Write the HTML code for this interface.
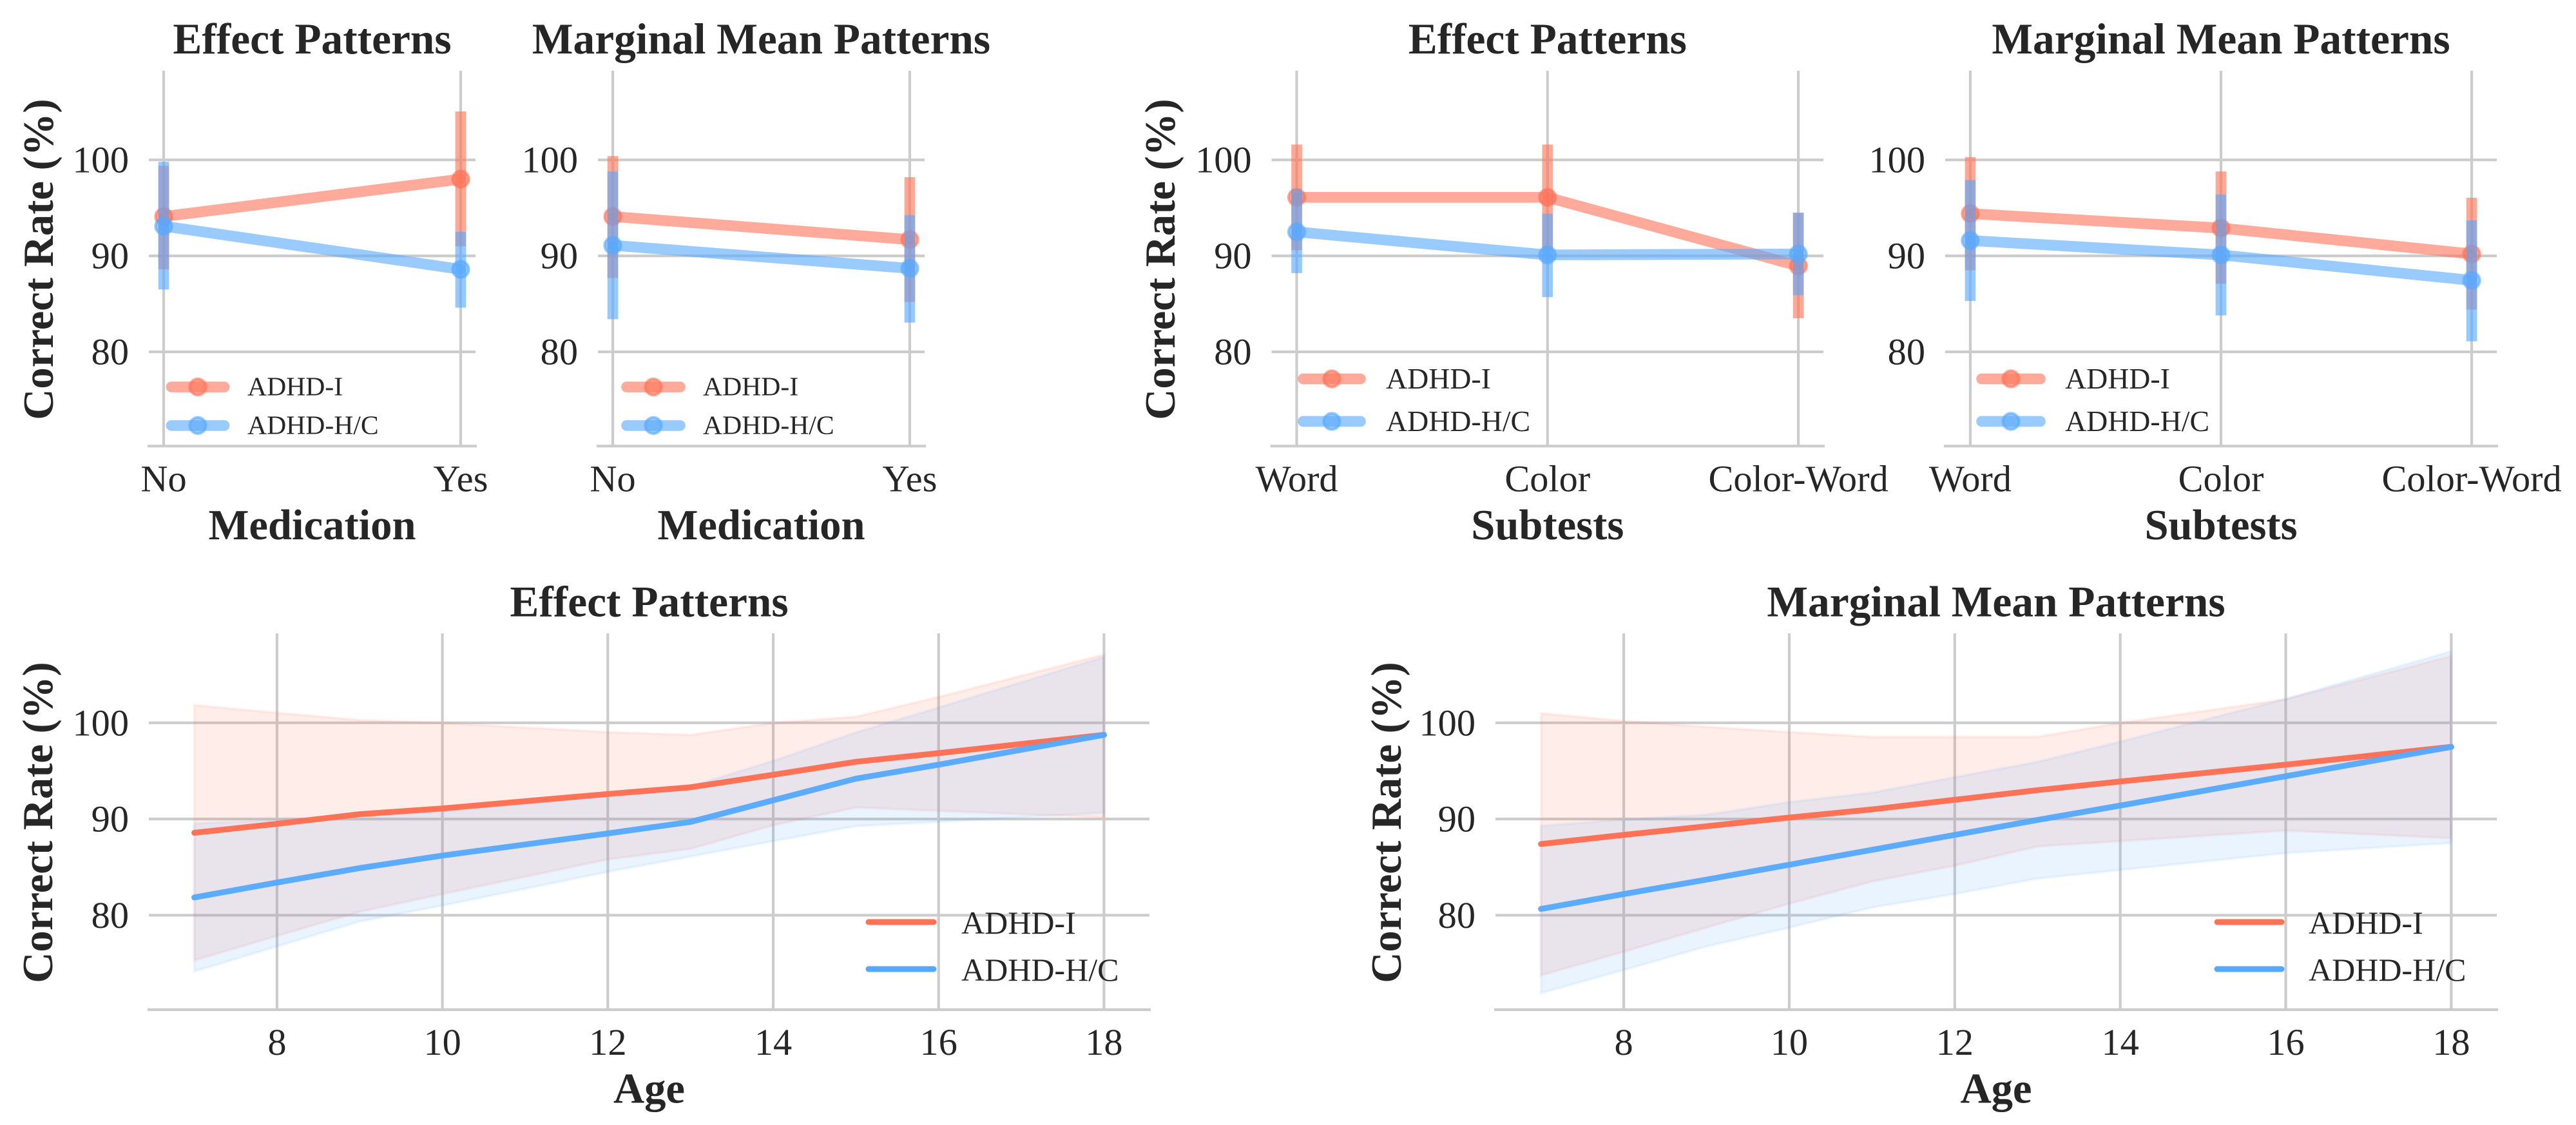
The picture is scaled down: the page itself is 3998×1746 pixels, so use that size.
<!DOCTYPE html>
<html lang="en">
<head>
<meta charset="utf-8">
<title>Correct rate patterns by medication, subtests and age</title>
<style>
html,body{margin:0;padding:0;background:#fff;width:3998px;height:1746px;overflow:hidden}
svg{display:block;font-family:"Liberation Serif","Times New Roman",serif}
text{fill:#262626}
</style>
</head>
<body>
<svg id="figure" xmlns="http://www.w3.org/2000/svg" width="3998" height="1746" viewBox="0 0 3998 1746"></svg>
<script>
// ---------- shared tick labels ----------
const yTicks = [80, 90, 100];
const ageTicks = [8, 10, 12, 14, 16, 18];
const medicationCategories = ['No', 'Yes'];
const subtestCategories = ['Word', 'Color', 'Color-Word'];
const seriesNames = ['ADHD-I', 'ADHD-H/C'];

// ---------- Medication / Effect ----------
const medEffectIMean = [94.1, 98.0];
const medEffectILow = [88.6, 91.0];
const medEffectIHigh = [99.4, 105.05];
const medEffectHMean = [93.1, 88.6];
const medEffectHLow = [86.5, 84.6];
const medEffectHHigh = [99.8, 92.5];

// ---------- Medication / Marginal mean ----------
const medMarginalIMean = [94.1, 91.7];
const medMarginalILow = [87.7, 85.2];
const medMarginalIHigh = [100.4, 98.2];
const medMarginalHMean = [91.1, 88.7];
const medMarginalHLow = [83.4, 83.05];
const medMarginalHHigh = [98.8, 94.25];

// ---------- Subtests / Effect ----------
const subEffectIMean = [96.1, 96.1, 88.95];
const subEffectILow = [90.6, 90.6, 83.5];
const subEffectIHigh = [101.6, 101.6, 94.5];
const subEffectHMean = [92.5, 90.1, 90.2];
const subEffectHLow = [88.2, 85.7, 85.9];
const subEffectHHigh = [96.95, 94.4, 94.5];

// ---------- Subtests / Marginal mean ----------
const subMarginalIMean = [94.4, 92.9, 90.2];
const subMarginalILow = [88.5, 87.1, 84.4];
const subMarginalIHigh = [100.3, 98.8, 96.05];
const subMarginalHMean = [91.6, 90.1, 87.45];
const subMarginalHLow = [85.3, 83.8, 81.1];
const subMarginalHHigh = [97.9, 96.4, 93.7];

// ---------- Age / Effect ----------
const ageEffectYears = [7, 8, 9, 10, 12, 13, 14, 15, 16, 18];
const ageEffectIMean = [88.57, 89.5, 90.5, 91.1, 92.6, 93.3, 94.6, 95.95, 96.85, 98.75];
const ageEffectILow = [75.3, 77.85, 80.35, 82.2, 85.8, 86.9, 89.35, 91.2, 90.85, 90.15];
const ageEffectIHigh = [101.85, 101.05, 100.3, 100, 99.05, 98.75, 100, 100.65, 102.7, 107.1];
const ageEffectHMean = [81.85, 83.4, 84.9, 86.2, 88.5, 89.7, 91.95, 94.2, 95.65, 98.75];
const ageEffectHLow = [74.15, 76.75, 79.35, 81, 84.5, 86.1, 87.7, 89.25, 89.7, 90.65];
const ageEffectHHigh = [89.55, 89.9, 90.3, 90.8, 92.4, 93.4, 96.05, 99, 101.6, 106.85];

// ---------- Age / Marginal mean ----------
const ageMarginalYears = [7, 8, 9, 10, 11, 12, 13, 14, 16, 18];
const ageMarginalIMean = [87.4, 88.35, 89.25, 90.15, 91, 92, 93, 93.9, 95.65, 97.5];
const ageMarginalILow = [73.75, 76.2, 78.7, 81.2, 83.5, 85.15, 87.15, 87.7, 88.8, 88];
const ageMarginalIHigh = [101, 100.2, 99.6, 99.05, 98.55, 98.55, 98.55, 100, 102.45, 106.95];
const ageMarginalHMean = [80.65, 82.2, 83.7, 85.25, 86.8, 88.35, 89.9, 91.4, 94.45, 97.5];
const ageMarginalHLow = [71.9, 74.3, 76.75, 78.7, 80.8, 82.2, 83.8, 84.7, 86.45, 87.5];
const ageMarginalHHigh = [89.3, 89.95, 90.45, 91.75, 92.75, 94.35, 95.95, 98.05, 102.5, 107.45];

// ---------- styling ----------
const RED = '#ff7256';
const BLUE = '#56a8ff';
const GRID = '#cccccc';
const YLIM = [70.18, 109.3];
const svgNS = 'http://www.w3.org/2000/svg';
const root = document.getElementById('figure');

function make(tag, attrs, parent, content) {
  const node = document.createElementNS(svgNS, tag);
  for (const k in attrs) node.setAttribute(k, attrs[k]);
  if (content !== undefined) node.textContent = content;
  parent.appendChild(node);
  return node;
}

function drawFrame(cfg, xScale, yScale, xValues, xLabels) {
  const g = make('g', {}, root);
  
  

  const title = make('text', {x: (cfg.left + cfg.right) / 2, y: cfg.top - 26.5, 'font-size': 67.4, 'font-weight': 'bold', 'text-anchor': 'middle'}, g, cfg.title);
  
  

  yTicks.forEach(function (t) {
    const line = make('line', {x1: cfg.left, x2: cfg.right, y1: yScale(t), y2: yScale(t), stroke: GRID, 'stroke-width': 4.17}, g);
    
    
    const label = make('text', {x: cfg.left - 31, y: yScale(t) + 19.5, 'font-size': 58.33, 'text-anchor': 'end'}, g, String(t));
    
    
  });

  xValues.forEach(function (v, i) {
    const line = make('line', {x1: xScale(v), x2: xScale(v), y1: cfg.top, y2: cfg.bottom, stroke: GRID, 'stroke-width': 4.17}, g);
    
    
    const label = make('text', {x: xScale(v), y: cfg.bottom + 70, 'font-size': 58.33, 'text-anchor': 'middle'}, g, String(xLabels[i]));
    
    
  });

  const spine = make('line', {x1: cfg.left - 2, x2: cfg.right + 2, y1: cfg.bottom, y2: cfg.bottom, stroke: GRID, 'stroke-width': 4.17}, g);
  
  

  const xTitle = make('text', {x: (cfg.left + cfg.right) / 2, y: cfg.bottom + 144.5, 'font-size': 66.67, 'font-weight': 'bold', 'text-anchor': 'middle'}, g, cfg.xTitle);
  
  

  if (cfg.yTitleX) {
    const cy = (cfg.top + cfg.bottom) / 2 + 1.5;
    const yTitle = make('text', {transform: 'translate(' + cfg.yTitleX + ' ' + cy + ') rotate(-90)', 'font-size': 66.67, 'font-weight': 'bold', 'text-anchor': 'middle'}, g, 'Correct Rate (%)');
    
    
  }
  return g;
}

function pointPath(xs, ys, xScale, yScale) {
  return xs.map(function (x, i) { return (i ? 'L' : 'M') + xScale(x).toFixed(2) + ' ' + yScale(ys[i]).toFixed(2); }).join(' ');
}

function drawCategoricalSeries(g, name, color, mean, low, high, xScale, yScale) {
  const xs = mean.map(function (_, i) { return i; });
  const s = make('g', {}, g);
  
  
  xs.forEach(function (x) {
    const bar = make('line', {x1: xScale(x), x2: xScale(x), y1: yScale(low[x]), y2: yScale(high[x]), stroke: color, 'stroke-width': 16.67, 'stroke-opacity': 0.62}, s);
    
    
  });
  const line = make('path', {d: pointPath(xs, mean, xScale, yScale), fill: 'none', stroke: color, 'stroke-width': 16.67, 'stroke-opacity': 0.6, 'stroke-linecap': 'round', 'stroke-linejoin': 'round'}, s);
  
  
  xs.forEach(function (x) {
    const dot = make('circle', {cx: xScale(x), cy: yScale(mean[x]), r: 12.6, fill: color, 'fill-opacity': 0.6, stroke: color, 'stroke-opacity': 0.6, 'stroke-width': 4.2}, s);
    
    
  });
}

function drawMarkerLegend(g, lg) {
  seriesNames.forEach(function (name, i) {
    const color = i ? BLUE : RED;
    const y = lg.y[i];
    const entry = make('g', {}, g);
    
    
    const swatch = make('line', {x1: lg.x1, x2: lg.x2, y1: y, y2: y, stroke: color, 'stroke-width': 16.67, 'stroke-opacity': 0.6, 'stroke-linecap': 'round'}, entry);
    
    
    const dot = make('circle', {cx: (lg.x1 + lg.x2) / 2, cy: y, r: 12.6, fill: color, 'fill-opacity': 0.6, stroke: color, 'stroke-opacity': 0.6, 'stroke-width': 4.2}, entry);
    
    
    const label = make('text', {x: lg.tx, y: y + lg.dy, 'font-size': lg.size}, entry, name);
    
    
  });
}

function categoricalChart(cfg, cats, iMean, iLow, iHigh, hMean, hLow, hHigh) {
  const n = cats.length - 1;
  const m = n * 0.05;
  const xScale = function (v) { return cfg.left + (v + m) / (n + 2 * m) * (cfg.right - cfg.left); };
  const yScale = function (v) { return cfg.bottom - (v - YLIM[0]) / (YLIM[1] - YLIM[0]) * (cfg.bottom - cfg.top); };
  const g = drawFrame(cfg, xScale, yScale, cats.map(function (_, i) { return i; }), cats);
  drawCategoricalSeries(g, 'adhd-i', RED, iMean, iLow, iHigh, xScale, yScale);
  drawCategoricalSeries(g, 'adhd-h-c', BLUE, hMean, hLow, hHigh, xScale, yScale);
  drawMarkerLegend(g, cfg.legend);
}

function drawBandSeries(g, name, color, years, mean, low, high, xScale, yScale) {
  const upper = pointPath(years, high, xScale, yScale);
  const revYears = years.slice().reverse();
  const revLow = low.slice().reverse();
  const lower = pointPath(revYears, revLow, xScale, yScale).replace(/^M/, 'L');
  const band = make('path', {d: upper + ' ' + lower + ' Z', fill: color, 'fill-opacity': 0.13, stroke: color, 'stroke-opacity': 0.09, 'stroke-width': 4.17}, g);
  
  
}

function ageChart(cfg, years, iMean, iLow, iHigh, hMean, hLow, hHigh) {
  const xScale = function (v) { return cfg.left + (v - 6.45) / 12.1 * (cfg.right - cfg.left); };
  const yScale = function (v) { return cfg.bottom - (v - YLIM[0]) / (YLIM[1] - YLIM[0]) * (cfg.bottom - cfg.top); };
  const g = drawFrame(cfg, xScale, yScale, ageTicks, ageTicks);
  drawBandSeries(g, 'adhd-i', RED, years, iMean, iLow, iHigh, xScale, yScale);
  drawBandSeries(g, 'adhd-h-c', BLUE, years, hMean, hLow, hHigh, xScale, yScale);
  const redLine = make('path', {d: pointPath(years, iMean, xScale, yScale), fill: 'none', stroke: RED, 'stroke-width': 9, 'stroke-linecap': 'round', 'stroke-linejoin': 'round'}, g);
  
  
  const blueLine = make('path', {d: pointPath(years, hMean, xScale, yScale), fill: 'none', stroke: BLUE, 'stroke-width': 9, 'stroke-opacity': 0.97, 'stroke-linecap': 'round', 'stroke-linejoin': 'round'}, g);
  
  
  seriesNames.forEach(function (name, i) {
    const y = cfg.legend.y[i];
    const swatch = make('line', {x1: cfg.legend.x1, x2: cfg.legend.x2, y1: y, y2: y, stroke: i ? BLUE : RED, 'stroke-width': 9, 'stroke-linecap': 'round'}, g);
    
    
    const label = make('text', {x: cfg.legend.tx, y: y + 18, 'font-size': 50}, g, name);
    
    
  });
}

categoricalChart(
  {id: 'medication-effect-chart', title: 'Effect Patterns', xTitle: 'Medication', left: 231, right: 738, top: 109.7, bottom: 692.3, yTitleX: 82,
   legend: {x1: 266, x2: 348, y: [600.6, 660.4], tx: 384, dy: 13, size: 41.67}},
  medicationCategories, medEffectIMean, medEffectILow, medEffectIHigh, medEffectHMean, medEffectHLow, medEffectHHigh);

categoricalChart(
  {id: 'medication-marginal-chart', title: 'Marginal Mean Patterns', xTitle: 'Medication', left: 928, right: 1435, top: 109.7, bottom: 692.3,
   legend: {x1: 972.5, x2: 1055.5, y: [600.6, 660.4], tx: 1091, dy: 13, size: 41.67}},
  medicationCategories, medMarginalIMean, medMarginalILow, medMarginalIHigh, medMarginalHMean, medMarginalHLow, medMarginalHHigh);

categoricalChart(
  {id: 'subtests-effect-chart', title: 'Effect Patterns', xTitle: 'Subtests', left: 1973.6, right: 2830, top: 109.7, bottom: 692.3, yTitleX: 1823,
   legend: {x1: 2022.5, x2: 2111.5, y: [588, 654], tx: 2151, dy: 15, size: 45.83}},
  subtestCategories, subEffectIMean, subEffectILow, subEffectIHigh, subEffectHMean, subEffectHLow, subEffectHHigh);

categoricalChart(
  {id: 'subtests-marginal-chart', title: 'Marginal Mean Patterns', xTitle: 'Subtests', left: 3019, right: 3875, top: 109.7, bottom: 692.3,
   legend: {x1: 3075.5, x2: 3166.5, y: [588, 654], tx: 3205, dy: 15, size: 45.83}},
  subtestCategories, subMarginalIMean, subMarginalILow, subMarginalIHigh, subMarginalHMean, subMarginalHLow, subMarginalHHigh);

ageChart(
  {id: 'age-effect-chart', title: 'Effect Patterns', xTitle: 'Age', left: 231, right: 1784, top: 983, bottom: 1567, yTitleX: 81,
   legend: {x1: 1348, x2: 1449, y: [1431, 1504], tx: 1492}},
  ageEffectYears, ageEffectIMean, ageEffectILow, ageEffectIHigh, ageEffectHMean, ageEffectHLow, ageEffectHHigh);

ageChart(
  {id: 'age-marginal-chart', title: 'Marginal Mean Patterns', xTitle: 'Age', left: 2321, right: 3875, top: 983, bottom: 1567, yTitleX: 2174,
   legend: {x1: 3441, x2: 3541, y: [1431, 1504], tx: 3583}},
  ageMarginalYears, ageMarginalIMean, ageMarginalILow, ageMarginalIHigh, ageMarginalHMean, ageMarginalHLow, ageMarginalHHigh);
</script>
</body>
</html>
